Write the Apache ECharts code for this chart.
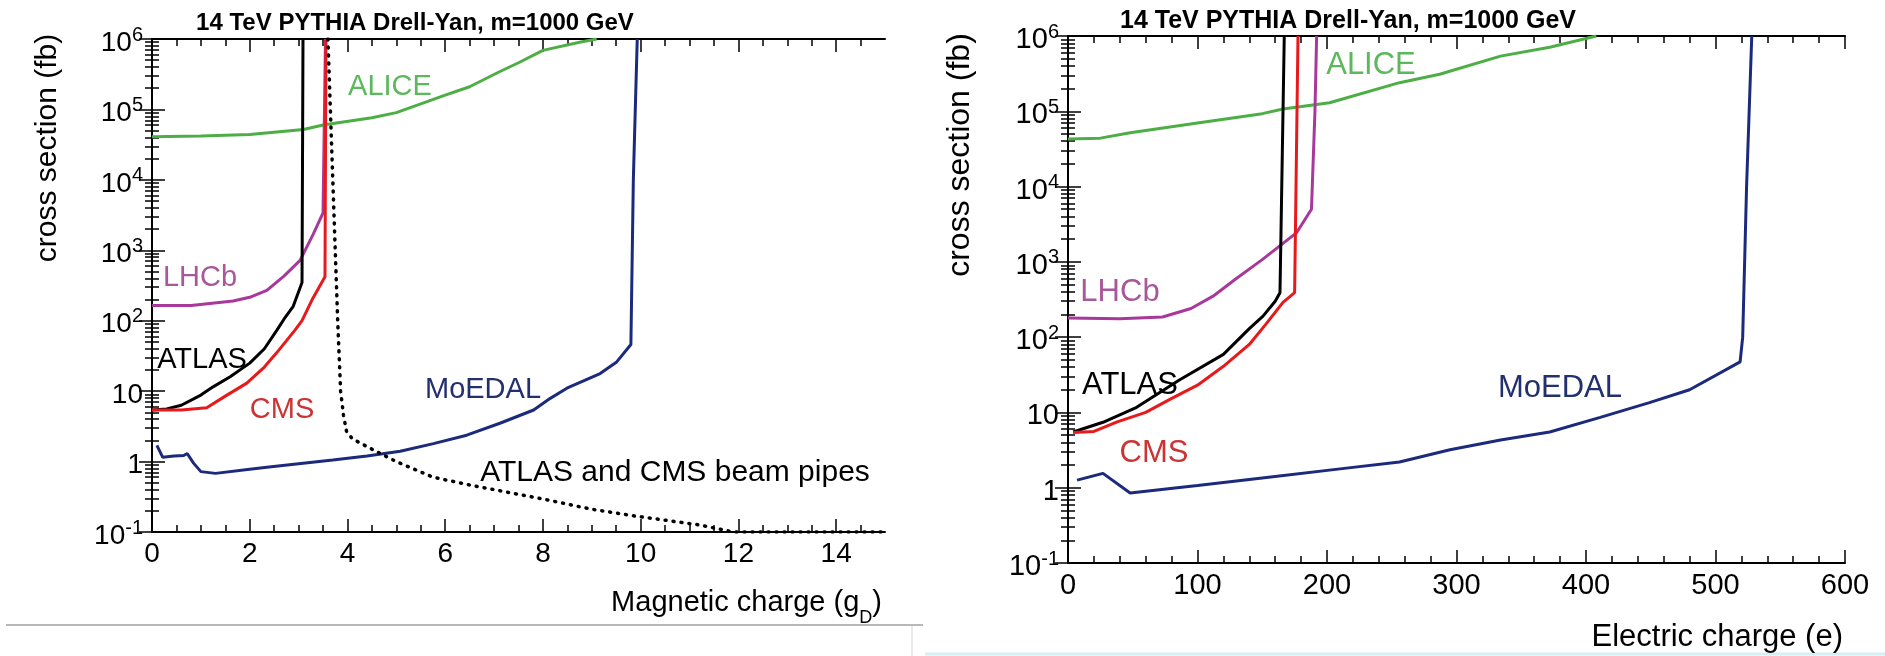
<!DOCTYPE html>
<html>
<head>
<meta charset="utf-8">
<script src="https://cdn.jsdelivr.net/npm/echarts@6/dist/echarts.min.js"></script>
<style>
  html, body { margin: 0; padding: 0; background: #fff; }
  #chart { width: 1885px; height: 656px; }
</style>
</head>
<body>
<div id="chart"></div>
<script>
const FONT = '"Liberation Sans", Arial, Helvetica, sans-serif'

// ---- data: left panel, magnetic charge (g_D) vs cross section (fb)
const aliceMag = [[0, 4.1e4], [1, 4.2e4], [2, 4.4e4], [3.1, 5.2e4], [3.5, 6e4], [4.5, 7.6e4], [5.0, 9e4], [5.5, 1.2e5], [6.0, 1.6e5], [6.5, 2.1e5], [7.1, 3.4e5], [7.5, 4.6e5], [8.0, 6.9e5], [8.75, 9e5], [9.1, 1e6]]
const lhcbMag = [[0, 165], [0.8, 165], [1.66, 190], [2.0, 215], [2.35, 270], [2.7, 430], [3.03, 720], [3.3, 1700], [3.5, 3400], [3.55, 1e6]]
const atlasMag = [[0, 5.4], [0.3, 5.6], [0.6, 6.3], [1.0, 8.8], [1.25, 11.5], [1.6, 16], [2.0, 25], [2.3, 40], [2.56, 74], [2.7, 105], [2.89, 160], [3.07, 350], [3.09, 1e6]]
const cmsMag = [[0, 5.4], [0.6, 5.4], [1.12, 5.8], [1.5, 8.5], [1.94, 13], [2.3, 22], [2.55, 35], [2.93, 74], [3.07, 100], [3.27, 195], [3.54, 420], [3.56, 1e6]]
const moedalMag = [[0.1, 1.7], [0.22, 1.15], [0.45, 1.2], [0.65, 1.22], [0.72, 1.3], [0.85, 0.95], [1.0, 0.72], [1.3, 0.68], [2.0, 0.78], [2.35, 0.83], [3.0, 0.93], [3.7, 1.05], [4.4, 1.2], [5.08, 1.4], [5.76, 1.8], [6.44, 2.37], [7.12, 3.5], [7.81, 5.4], [8.15, 7.9], [8.49, 11], [9.17, 17.8], [9.51, 26], [9.8, 46], [9.85, 1e4], [9.93, 1e6]]
const beamPipeMag = [[3.6, 1e6], [3.65, 1e5], [3.7, 1e4], [3.75, 1e3], [3.8, 100], [3.86, 10], [3.92, 4.5], [3.98, 2.7], [4.1, 2.1], [4.5, 1.5], [5.0, 1.0], [5.75, 0.6], [6.6, 0.45], [7.0, 0.4], [8.15, 0.28], [9.0, 0.21], [9.85, 0.17], [11.2, 0.126], [11.9, 0.1], [15, 0.1]]

// ---- data: right panel, electric charge (e) vs cross section (fb)
const aliceEl = [[0, 4.3e4], [25, 4.4e4], [48, 5.2e4], [100, 7e4], [150, 9.3e4], [166, 1.07e5], [202, 1.3e5], [256, 2.4e5], [287, 3.1e5], [334, 5.4e5], [372, 7.1e5], [408, 1e6]]
const lhcbEl = [[0, 180], [40, 175], [73, 185], [95, 240], [112, 350], [130, 600], [150, 1070], [176.6, 2450], [188, 5000], [190.7, 1e5], [192, 1e6]]
const atlasEl = [[4, 5.5], [27, 7.4], [53, 11.7], [86, 27], [120, 59], [140, 130], [150.6, 190], [160, 300], [163.7, 390], [167, 1e6]]
const cmsEl = [[4, 5.4], [20, 5.6], [38, 7.5], [60, 10], [79, 15], [100, 23], [120, 41], [140, 80], [153, 150], [166, 290], [175, 390], [177.6, 1e6]]
const moedalEl = [[7, 1.26], [27, 1.55], [48, 0.85], [100, 1.07], [150, 1.35], [215, 1.82], [256, 2.2], [295, 3.2], [334, 4.3], [372, 5.5], [411, 8.6], [449, 13.5], [480, 20], [519, 47], [521, 100], [524, 1e4], [528, 1e6]]

// ---- ticks
const yMajorTicks = [0.1, 1, 10, 100, 1e3, 1e4, 1e5, 1e6]
const magMajorTicks = [0, 2, 4, 6, 8, 10, 12, 14]
const elMajorTicks = [0, 100, 200, 300, 400, 500, 600]

const yMinorTicks = []
yMajorTicks.slice(0, -1).forEach(d => {
  for (let k = 2; k <= 9; k++) yMinorTicks.push(+(d * k).toPrecision(3))
})
const magMinorTicks = []
for (let v = 0.5; v < 15; v += 0.5) magMinorTicks.push(v)
const elMinorTicks = []
for (let v = 20; v < 600; v += 20) elMinorTicks.push(v)

const colors = {
  alice: '#4dae45', aliceText: '#5cb85c',
  lhcb: '#a8399a', lhcbText: '#a8579a',
  atlas: '#000000',
  cms: '#e8191b', cmsText: '#cc3333',
  moedal: '#1b2a7c', moedalText: '#23306e'
}

function powLabel(v) {
  const e = Math.round(Math.log10(v))
  if (e === 0) return '{b|1}'
  if (e === 1) return '{b|10}'
  return '{b|10}{s|' + e + '}'
}

function xAxes(grid, max, majors, minors, fs) {
  const base = { type: 'value', gridIndex: grid, min: 0, max: max, splitLine: { show: false } }
  const line = { show: true, lineStyle: { color: '#000', width: 2 } }
  const majorTick = { show: true, inside: true, length: 13, customValues: majors, lineStyle: { color: '#000', width: 1.5 } }
  const minorTick = { show: true, inside: true, length: 7, customValues: minors, lineStyle: { color: '#000', width: 1.5 } }
  return [
    Object.assign({}, base, {
      position: 'bottom', axisLine: line, axisTick: majorTick,
      axisLabel: { customValues: majors, fontSize: fs, fontFamily: FONT, color: '#000', margin: 8 }
    }),
    Object.assign({}, base, { position: 'bottom', axisLine: { show: false }, axisTick: minorTick, axisLabel: { show: false } }),
    Object.assign({}, base, { position: 'top', axisLine: line, axisTick: majorTick, axisLabel: { show: false } }),
    Object.assign({}, base, { position: 'top', axisLine: { show: false }, axisTick: minorTick, axisLabel: { show: false } })
  ]
}

function yAxes(grid, fs) {
  const base = { type: 'log', logBase: 10, gridIndex: grid, min: 0.1, max: 1e6, splitLine: { show: false } }
  const line = { show: true, lineStyle: { color: '#000', width: 2 } }
  const majorTick = { show: true, inside: true, length: 13, customValues: yMajorTicks, lineStyle: { color: '#000', width: 1.5 } }
  const minorTick = { show: true, inside: true, length: 7, customValues: yMinorTicks, lineStyle: { color: '#000', width: 1.5 } }
  return [
    Object.assign({}, base, {
      position: 'left', axisLine: line, axisTick: majorTick,
      axisLabel: {
        customValues: yMajorTicks, formatter: powLabel, margin: 9, align: 'right',
        padding: [8, 0, 0, 0],
        rich: {
          b: { fontSize: fs, fontFamily: FONT, color: '#000', lineHeight: 36 },
          s: { fontSize: 20, fontFamily: FONT, color: '#000', verticalAlign: 'top', lineHeight: 20 }
        }
      }
    }),
    Object.assign({}, base, { position: 'left', axisLine: { show: false }, axisTick: minorTick, axisLabel: { show: false } }),
    Object.assign({}, base, { position: 'right', axisLine: line, axisTick: majorTick, axisLabel: { show: false } }),
    Object.assign({}, base, { position: 'right', axisLine: { show: false }, axisTick: minorTick, axisLabel: { show: false } })
  ]
}

function curve(name, data, grid, color, dashed) {
  return {
    name: name, type: 'line', data: data,
    xAxisIndex: grid * 4, yAxisIndex: grid * 4,
    showSymbol: false, symbol: 'none', clip: true,
    lineStyle: dashed
      ? { color: color, width: 3.5, type: [1, 7], cap: 'round' }
      : { color: color, width: 3 },
    z: dashed ? 3 : 2
  }
}

function label(text, x, y, color, size, extra) {
  return Object.assign({
    type: 'text', x: x, y: y, z: 10,
    style: {
      text: text, fill: color, fontSize: size, fontFamily: FONT,
      align: 'center', verticalAlign: 'middle', textAlign: 'center', textVerticalAlign: 'middle'
    }
  }, extra || {})
}

const title = '14 TeV PYTHIA Drell-Yan, m=1000 GeV'

const chart = echarts.init(document.getElementById('chart'))
chart.setOption({
  animation: false,
  backgroundColor: '#fff',
  grid: [
    { left: 152, top: 39, width: 733, height: 493, outerBoundsMode: 'none' },
    { left: 1068, top: 36, width: 777, height: 527, outerBoundsMode: 'none' }
  ],
  xAxis: xAxes(0, 15, magMajorTicks, magMinorTicks, 28).concat(xAxes(1, 600, elMajorTicks, elMinorTicks, 29)),
  yAxis: yAxes(0, 28).concat(yAxes(1, 29)),
  series: [
    curve('ALICE', aliceMag, 0, colors.alice),
    curve('LHCb', lhcbMag, 0, colors.lhcb),
    curve('ATLAS', atlasMag, 0, colors.atlas),
    curve('CMS', cmsMag, 0, colors.cms),
    curve('MoEDAL', moedalMag, 0, colors.moedal),
    curve('ATLAS and CMS beam pipes', beamPipeMag, 0, '#000', true),
    curve('ALICE', aliceEl, 1, colors.alice),
    curve('LHCb', lhcbEl, 1, colors.lhcb),
    curve('ATLAS', atlasEl, 1, colors.atlas),
    curve('CMS', cmsEl, 1, colors.cms),
    curve('MoEDAL', moedalEl, 1, colors.moedal)
  ],
  graphic: [
    // page frame remnants
    { type: 'line', shape: { x1: 6, y1: 625, x2: 923, y2: 625 }, style: { stroke: '#a0a0a0', lineWidth: 1.5 } },
    { type: 'line', shape: { x1: 912, y1: 626, x2: 912, y2: 656 }, style: { stroke: '#e4e4e4', lineWidth: 1.5 } },
    { type: 'line', shape: { x1: 925, y1: 654, x2: 1885, y2: 654 }, style: { stroke: '#d8eef4', lineWidth: 3 } },

    // titles
    label(title, 415, 23, '#000', 24, { style: { text: title, fill: '#000', font: 'bold 24px ' + FONT, align: 'center', verticalAlign: 'middle' } }),
    label(title, 1348, 21, '#000', 25, { style: { text: title, fill: '#000', font: 'bold 25px ' + FONT, align: 'center', verticalAlign: 'middle' } }),

    // axis names
    label('cross section (fb)', 48, 148, '#000', 30, { rotation: Math.PI / 2 }),
    label('cross section (fb)', 960, 155, '#000', 32, { rotation: Math.PI / 2 }),
    {
      type: 'text', x: 882, y: 603, z: 10,
      style: {
        text: '{a|Magnetic charge (g}{d|D}{a|)}', align: 'right', verticalAlign: 'middle',
        rich: {
          a: { fontSize: 29, fontFamily: FONT, fill: '#000', lineHeight: 48 },
          d: { fontSize: 18, fontFamily: FONT, fill: '#000', verticalAlign: 'bottom', lineHeight: 18 }
        }
      }
    },
    {
      type: 'text', x: 1843, y: 637, z: 10,
      style: { text: 'Electric charge (e)', fill: '#000', fontSize: 31, fontFamily: FONT, align: 'right', verticalAlign: 'middle' }
    },

    // curve labels, left panel
    label('ALICE', 390, 87, colors.aliceText, 29),
    label('LHCb', 200, 278, colors.lhcbText, 29),
    label('ATLAS', 202, 360, '#000', 29),
    label('CMS', 282, 410, colors.cmsText, 29),
    label('MoEDAL', 483, 390, colors.moedalText, 29),
    label('ATLAS and CMS beam pipes', 675, 473, '#000', 30),

    // curve labels, right panel
    label('ALICE', 1371, 65, colors.aliceText, 31),
    label('LHCb', 1120, 292, colors.lhcbText, 31),
    label('ATLAS', 1130, 385, '#000', 31),
    label('CMS', 1154, 453, colors.cmsText, 31),
    label('MoEDAL', 1560, 388, colors.moedalText, 31)
  ]
})
</script>
</body>
</html>
